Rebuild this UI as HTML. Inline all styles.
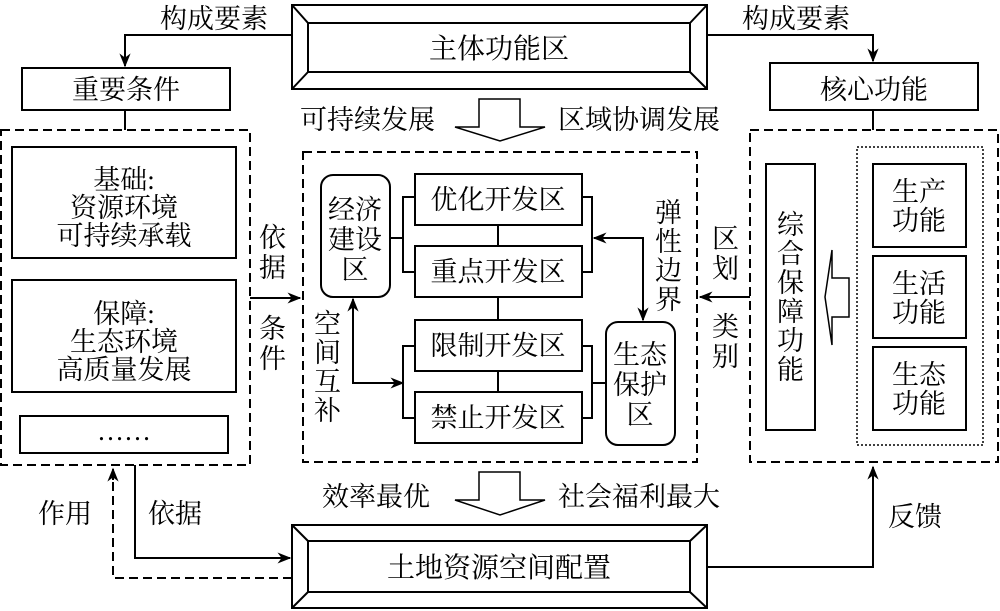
<!DOCTYPE html>
<html><head><meta charset="utf-8"><style>
html,body{margin:0;padding:0;background:#fff}
svg{display:block}
text{font-family:"Liberation Serif","Noto Serif CJK SC","Noto Sans CJK SC",serif;fill:#000}
</style></head><body>
<svg width="1000" height="611" viewBox="0 0 1000 611" xmlns="http://www.w3.org/2000/svg">
<defs>
<marker id="b" viewBox="0 0 10 10" refX="9" refY="5" markerWidth="14" markerHeight="14" orient="auto-start-reverse" markerUnits="userSpaceOnUse"><path d="M0,1 L10,5 L0,9 L3,5 Z" fill="#000"/></marker>
</defs>
<g fill="none" stroke="#000" stroke-width="2">
<rect x="292" y="5" width="415" height="84"/>
<rect x="308" y="23" width="382" height="49"/>
<path d="M292,5 L308,23 M707,5 L690,23 M292,89 L308,72 M707,89 L690,72"/>
<rect x="292" y="525" width="415" height="83"/>
<rect x="308" y="541" width="382" height="51"/>
<path d="M292,525 L308,541 M707,525 L690,541 M292,608 L308,592 M707,608 L690,592"/>
<path d="M292,35 H125 V66" marker-end="url(#b)"/>
<path d="M707,35 H873 V61" marker-end="url(#b)"/>
<rect x="22" y="68" width="208" height="42"/>
<rect x="770" y="63" width="208" height="47"/>
<path d="M125,110 V130 M873,110 V130"/>
<rect x="1" y="130" width="249" height="335" stroke-dasharray="9,5"/>
<rect x="12" y="147" width="224" height="111"/>
<rect x="12" y="280" width="224" height="112"/>
<rect x="20" y="416" width="208" height="37"/>
<path d="M250,298 H300" marker-end="url(#b)"/>
<rect x="303" y="152" width="394" height="310" stroke-dasharray="9,5"/>
<rect x="321" y="175" width="69" height="122" rx="12"/>
<rect x="415" y="174" width="167" height="51"/>
<rect x="415" y="246" width="167" height="51"/>
<rect x="415" y="320" width="167" height="51"/>
<rect x="415" y="392" width="167" height="51"/>
<rect x="606" y="322" width="69" height="123" rx="12"/>
<path d="M415,197 H403 V272 H415 M582,197 H592 V272 H582 M390,238 H403 M498,225 V246 M498,297 V320 M498,371 V392"/>
<path d="M415,346 H403 V418 H415 M582,346 H592 V418 H582 M592,383 H606"/>
<path d="M594,238 H643 V320" marker-start="url(#b)" marker-end="url(#b)"/>
<path d="M353,299 V383 H403" marker-start="url(#b)" marker-end="url(#b)"/>
<rect x="750" y="130" width="248" height="332" stroke-dasharray="9,5"/>
<rect x="766" y="164" width="49" height="266"/>
<rect x="857" y="147" width="126" height="298" stroke-width="1.5" stroke-dasharray="2,2"/>
<rect x="873" y="164" width="93" height="83"/>
<rect x="873" y="256" width="93" height="82"/>
<rect x="873" y="347" width="93" height="83"/>
<path d="M849,278 H832 V250 L825,297 L832,345 V317 H849 Z" stroke-width="1.5"/>
<path d="M750,297 H700" marker-end="url(#b)"/>
<path d="M479,99 H520 V127 H545 L500,141 L455,127 H479 Z" stroke-width="1.5"/>
<path d="M479,472 H520 V500 H545 L500,515 L455,500 H479 Z" stroke-width="1.5"/>
<path d="M135,465 V558 H290" marker-end="url(#b)"/>
<path d="M292,578 H113 V470" stroke-dasharray="9,5"/>
<path d="M113,480 V469" marker-end="url(#b)"/>
<path d="M707,567 H873 V467" marker-end="url(#b)"/>
</g>
<g font-size="27">
<text x="160" y="28">构成要素</text>
<text x="742" y="28">构成要素</text>
<text x="499" y="58" text-anchor="middle" font-size="28">主体功能区</text>
<text x="126" y="99" text-anchor="middle">重要条件</text>
<text x="874" y="99" text-anchor="middle">核心功能</text>
<text x="300" y="129">可持续发展</text>
<text x="558" y="129">区域协调发展</text>
<text x="124" y="189" text-anchor="middle">基础:</text>
<text x="124" y="217" text-anchor="middle">资源环境</text>
<text x="124" y="245" text-anchor="middle">可持续承载</text>
<text x="124" y="323" text-anchor="middle">保障:</text>
<text x="124" y="351" text-anchor="middle">生态环境</text>
<text x="124" y="379" text-anchor="middle">高质量发展</text>
<text x="124" y="440" text-anchor="middle">……</text>
<text x="259" y="247">依</text><text x="259" y="277">据</text>
<text x="259" y="338">条</text><text x="259" y="368">件</text>
<text x="355" y="219" text-anchor="middle">经济</text>
<text x="355" y="249" text-anchor="middle">建设</text>
<text x="355" y="279" text-anchor="middle">区</text>
<text x="498" y="209" text-anchor="middle">优化开发区</text>
<text x="498" y="281" text-anchor="middle">重点开发区</text>
<text x="498" y="355" text-anchor="middle">限制开发区</text>
<text x="498" y="427" text-anchor="middle">禁止开发区</text>
<text x="640" y="364" text-anchor="middle">生态</text>
<text x="640" y="394" text-anchor="middle">保护</text>
<text x="640" y="424" text-anchor="middle">区</text>
<text x="655" y="222">弹</text><text x="655" y="251">性</text><text x="655" y="280">边</text><text x="655" y="309">界</text>
<text x="314" y="333">空</text><text x="314" y="362">间</text><text x="314" y="391">互</text><text x="314" y="420">补</text>
<text x="712" y="248">区</text><text x="712" y="278">划</text>
<text x="712" y="336">类</text><text x="712" y="366">别</text>
<text x="777" y="234">综</text><text x="777" y="263">合</text><text x="777" y="292">保</text><text x="777" y="321">障</text><text x="777" y="350">功</text><text x="777" y="379">能</text>
<text x="919" y="201" text-anchor="middle">生产</text><text x="919" y="230" text-anchor="middle">功能</text>
<text x="919" y="293" text-anchor="middle">生活</text><text x="919" y="322" text-anchor="middle">功能</text>
<text x="919" y="384" text-anchor="middle">生态</text><text x="919" y="413" text-anchor="middle">功能</text>
<text x="322" y="506">效率最优</text>
<text x="558" y="506">社会福利最大</text>
<text x="38" y="523">作用</text>
<text x="148" y="523">依据</text>
<text x="888" y="526">反馈</text>
<text x="499" y="577" text-anchor="middle" font-size="28">土地资源空间配置</text>
</g>
</svg>
</body></html>
